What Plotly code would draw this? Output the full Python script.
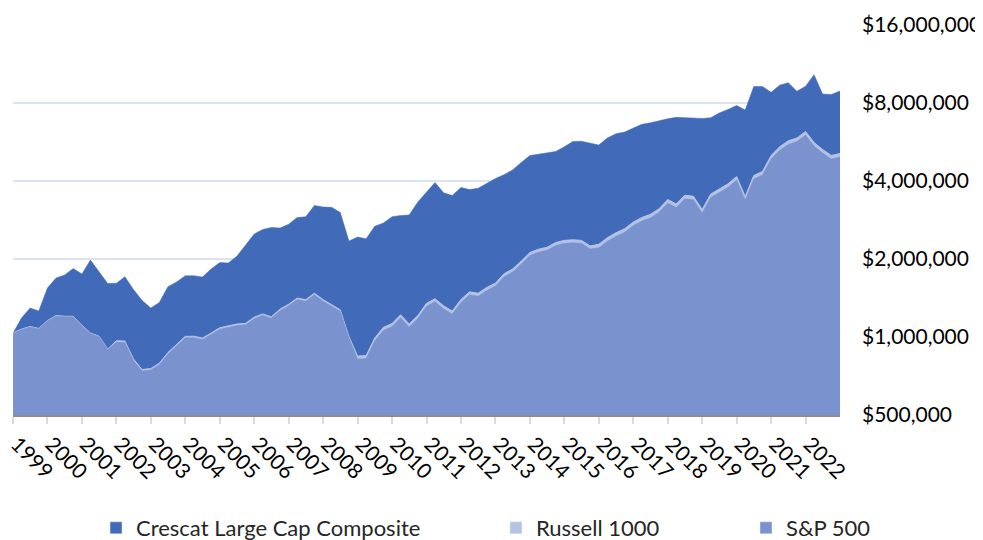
import pandas as pd
import plotly.graph_objects as go

# Quarterly observations (growth of an initial ~$1M), Jan 1999 .. Jan 2023
dates = pd.date_range("1999-01-01", "2023-01-01", freq="QS").strftime("%Y-%m-%d").tolist()

crescat = [
    1033000, 1184000, 1294000, 1260000, 1546000, 1689000, 1735000, 1838000,
    1750000, 1982000, 1787000, 1609000, 1612000, 1709000, 1525000, 1383000,
    1294000, 1359000, 1564000, 1630000, 1724000, 1724000, 1704000, 1830000,
    1939000, 1930000, 2049000, 2265000, 2498000, 2600000, 2648000, 2634000,
    2722000, 2892000, 2910000, 3217000, 3175000, 3166000, 3023000, 2347000,
    2432000, 2393000, 2674000, 2754000, 2913000, 2944000, 2957000, 3319000,
    3627000, 3947000, 3605000, 3516000, 3776000, 3709000, 3749000, 3919000,
    4090000, 4230000, 4411000, 4715000, 5017000, 5076000, 5130000, 5199000,
    5420000, 5682000, 5697000, 5617000, 5508000, 5862000, 6085000, 6182000,
    6406000, 6620000, 6709000, 6836000, 6952000, 7046000, 7036000, 7014000,
    6977000, 7014000, 7320000, 7551000, 7824000, 7518000, 9264000, 9264000,
    8798000, 9371000, 9582000, 8885000, 9280000, 10278000, 8666000, 8628000,
    8900000,
]

russell_1000 = [
    1038000, 1073000, 1098000, 1079000, 1158000, 1211000, 1203000, 1202000,
    1108000, 1037000, 1007000, 899000, 968000, 965000, 823000, 749000,
    756000, 792000, 871000, 935000, 1006000, 1007000, 991000, 1036000,
    1086000, 1104000, 1122000, 1129000, 1193000, 1228000, 1197000, 1281000,
    1338000, 1413000, 1394000, 1476000, 1394000, 1333000, 1273000, 1004000,
    844000, 848000, 991000, 1090000, 1127000, 1219000, 1123000, 1211000,
    1349000, 1406000, 1320000, 1260000, 1397000, 1494000, 1476000, 1554000,
    1614000, 1755000, 1830000, 1963000, 2119000, 2182000, 2219000, 2314000,
    2361000, 2372000, 2361000, 2247000, 2280000, 2418000, 2525000, 2617000,
    2777000, 2893000, 2974000, 3126000, 3395000, 3259000, 3524000, 3493000,
    3106000, 3561000, 3740000, 3900000, 4165000, 3486000, 4202000, 4354000,
    5020000, 5423000, 5715000, 5864000, 6213000, 5634000, 5294000, 5020000,
    5109000,
]

sp500 = [
    1033000, 1068000, 1093000, 1074000, 1153000, 1205000, 1198000, 1197000,
    1103000, 1032000, 1002000, 895000, 955000, 952000, 812000, 739000,
    746000, 781000, 859000, 923000, 993000, 994000, 978000, 1022000,
    1072000, 1089000, 1107000, 1114000, 1177000, 1212000, 1181000, 1264000,
    1320000, 1394000, 1375000, 1456000, 1375000, 1315000, 1256000, 991000,
    822000, 826000, 965000, 1061000, 1097000, 1187000, 1093000, 1179000,
    1314000, 1369000, 1285000, 1227000, 1360000, 1455000, 1437000, 1513000,
    1572000, 1709000, 1782000, 1911000, 2063000, 2125000, 2161000, 2253000,
    2299000, 2310000, 2299000, 2188000, 2209000, 2343000, 2447000, 2536000,
    2691000, 2803000, 2882000, 3029000, 3290000, 3158000, 3415000, 3385000,
    3010000, 3451000, 3624000, 3779000, 4036000, 3378000, 4072000, 4219000,
    4864000, 5255000, 5538000, 5682000, 6020000, 5459000, 5130000, 4864000,
    4951000,
]

years = list(range(1999, 2023))
year_ticks = [f"{y}-01-01" for y in years]
year_labels = [str(y) for y in years]

y_ticks = [500000, 1000000, 2000000, 4000000, 8000000, 16000000]
y_labels = ["$500,000", "$1,000,000", "$2,000,000", "$4,000,000", "$8,000,000", "$16,000,000"]

names = ["Crescat Large Cap Composite", "Russell 1000", "S&P 500"]
colors = ["#416bb8", "#b4c2e4", "#7a92ce"]

FONT = "Lato, 'Open Sans', sans-serif"

fig = go.Figure()
series = [crescat, russell_1000, sp500]
for i, (vals, col) in enumerate(zip(series, colors)):
    fig.add_trace(go.Scatter(
        x=dates, y=vals, mode="lines", fill="tozeroy",
        fillcolor=col, line=dict(color=col, width=1 if i == 1 else 0.5),
        name=names[i], showlegend=False, hoverinfo="x+y+name",
    ))

legend_ids = ["legend", "legend2", "legend3"]
for i, col in enumerate(colors):
    fig.add_trace(go.Bar(
        x=[dates[0]], y=[None], name=names[i], marker_color=col,
        showlegend=True, legend=legend_ids[i],
    ))

leg_common = dict(orientation="h", yanchor="middle", y=-0.2897, xanchor="left",
                  font=dict(family=FONT, size=22, color="#262626"),
                  bgcolor="rgba(0,0,0,0)")
# the page body adds an 8px margin, so the figure is offset by 8px
fig.update_layout(
    width=975, height=532,
    margin=dict(l=5, r=143, t=17, b=125, autoexpand=False),
    paper_bgcolor="white", plot_bgcolor="white",
    font=dict(family=FONT, size=20, color="#000000"),
    legend=dict(x=0.1004, **leg_common),
    legend2=dict(x=0.584, **leg_common),
    legend3=dict(x=0.8863, **leg_common),
    xaxis=dict(
        type="date", range=["1999-01-01", "2023-01-01"], automargin=False,
        tickmode="array", tickvals=year_ticks, ticktext=year_labels,
        tickangle=45, ticks="outside", ticklen=7, tickcolor="#d9d9d9", tickwidth=1.5,
        ticklabelstandoff=0, ticklabelshift=4, ticklabeloverflow="allow",
        showline=True, linecolor="#8c8c8c", linewidth=1.5,
        showgrid=False, zeroline=False,
        tickfont=dict(family=FONT, size=21, color="#000000"),
    ),
    yaxis=dict(
        type="log", side="right", automargin=False,
        range=[5.69897, 7.20412],
        tickmode="array", tickvals=y_ticks, ticktext=y_labels,
        showgrid=True, gridcolor="#d9e3f4", gridwidth=2,
        zeroline=False, showline=False, ticks="",
        ticklabelstandoff=21, ticklabeloverflow="allow",
        tickfont=dict(family=FONT, size=21, color="#000000"),
    ),
)

fig.write_html("out.html")
